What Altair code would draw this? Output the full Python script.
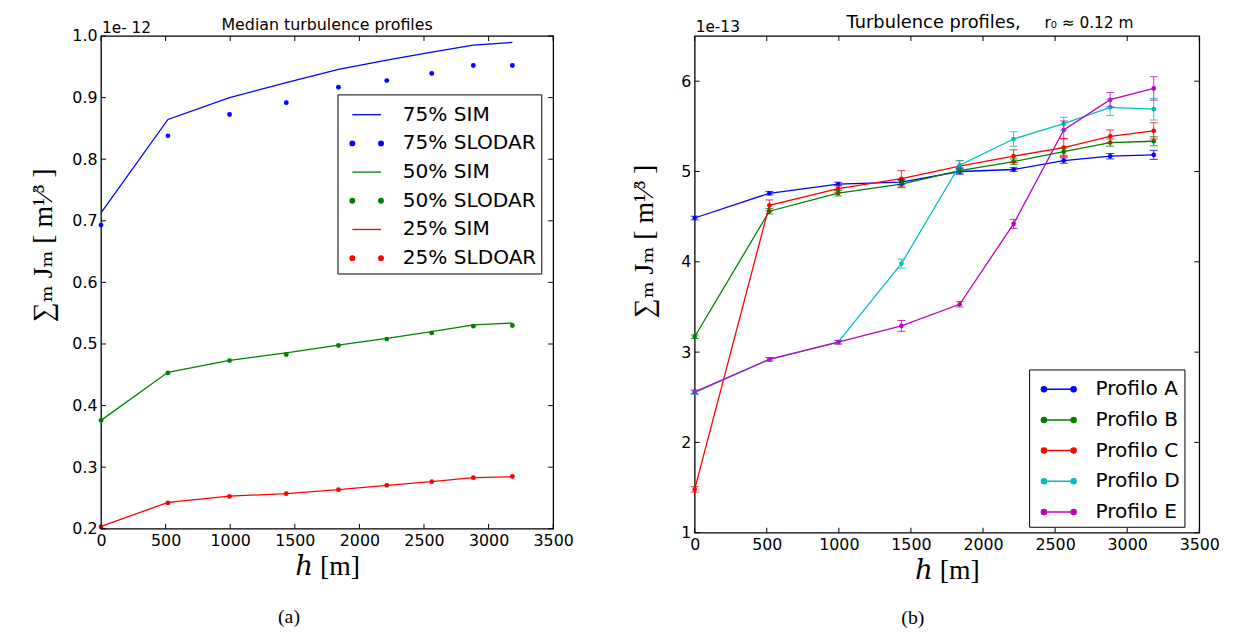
import altair as alt
import pandas as pd

# ---------------- data ----------------
heights = [0, 518, 995, 1434, 1838, 2212, 2560, 2882, 3184]

levels = ["75%", "50%", "25%"]
level_colors = ["#0000ff", "#008000", "#ff0000"]
sim_75 = [0.713, 0.8645, 0.900, 0.9245, 0.9457, 0.9608, 0.974, 0.9854, 0.9897]
slodar_75 = [0.693, 0.838, 0.8726, 0.8918, 0.9169, 0.9276, 0.9393, 0.9522, 0.9522]
sim_50 = [0.376, 0.454, 0.4734, 0.4857, 0.498, 0.509, 0.520, 0.531, 0.534]
slodar_50 = [0.376, 0.453, 0.473, 0.483, 0.4975, 0.508, 0.518, 0.529, 0.530]
sim_25 = [0.204, 0.2427, 0.253, 0.257, 0.2636, 0.2706, 0.2764, 0.2829, 0.2845]
slodar_25 = [0.203, 0.242, 0.2525, 0.257, 0.2635, 0.2705, 0.2765, 0.283, 0.285]
sim_names = ["75% SIM", "50% SIM", "25% SIM"]
slodar_names = ["75% SLODAR", "50% SLODAR", "25% SLDOAR"]
series_left = ["75% SIM", "75% SLODAR", "50% SIM", "50% SLODAR", "25% SIM", "25% SLDOAR"]
series_left_colors = ["#0000ff", "#0000ff", "#008000", "#008000", "#ff0000", "#ff0000"]

profiles = ["Profilo A", "Profilo B", "Profilo C", "Profilo D", "Profilo E"]
profile_keys = ["A", "B", "C", "D", "E"]
profile_colors = ["#0000ff", "#008000", "#ff0000", "#00bfbf", "#bf00bf"]
prof_A = [4.485, 4.759, 4.861, 4.883, 5.00, 5.022, 5.121, 5.169, 5.184]
prof_B = [3.17, 4.56, 4.76, 4.86, 5.01, 5.11, 5.22, 5.32, 5.335]
prof_C = [1.48, 4.625, 4.81, 4.92, 5.06, 5.17, 5.265, 5.39, 5.45]
prof_D = [2.55, 2.92, 3.11, 3.98, 5.07, 5.36, 5.53, 5.71, 5.69]
prof_E = [2.56, 2.92, 3.11, 3.29, 3.53, 4.42, 5.46, 5.795, 5.92]
err_A = [0.02, 0.02, 0.02, 0.03, 0.03, 0.02, 0.03, 0.03, 0.05]
err_B = [0.02, 0.03, 0.03, 0.04, 0.03, 0.03, 0.04, 0.04, 0.05]
err_C = [0.03, 0.06, 0.04, 0.09, 0.06, 0.07, 0.10, 0.07, 0.09]
err_D = [0.02, 0.02, 0.02, 0.05, 0.05, 0.08, 0.07, 0.09, 0.12]
err_E = [0.02, 0.02, 0.02, 0.06, 0.03, 0.05, 0.10, 0.08, 0.13]

x_ticks = [0, 500, 1000, 1500, 2000, 2500, 3000, 3500]
y_ticks_left = [0.2, 0.3, 0.4, 0.5, 0.6, 0.7, 0.8, 0.9, 1.0]
y_ticks_right = [1, 2, 3, 4, 5, 6]

# ---------------- tables ----------------
rows = []
for lv, sim, slo, sn, dn in zip(levels, [sim_75, sim_50, sim_25],
                                [slodar_75, slodar_50, slodar_25], sim_names, slodar_names):
    for h, a, b in zip(heights, sim, slo):
        rows.append({"h": h, "v": a, "level": lv, "kind": "SIM", "series": sn})
        rows.append({"h": h, "v": b, "level": lv, "kind": "SLODAR", "series": dn})
df_left = pd.DataFrame(rows)

rows = []
for p, k, vals, errs in zip(profiles, profile_keys, [prof_A, prof_B, prof_C, prof_D, prof_E],
                            [err_A, err_B, err_C, err_D, err_E]):
    for h, v, e in zip(heights, vals, errs):
        rows.append({"h": h, "v": v, "lo": v - e, "hi": v + e, "key": k, "entry": p})
df_right = pd.DataFrame(rows)

SERIF = "Liberation Serif, DejaVu Serif"
SANS = "DejaVu Sans"
TICK = 5

dots_l = ("M-1.16,0A0.16,0.16,0,1,0,-0.84,0A0.16,0.16,0,1,0,-1.16,0Z"
          "M0.84,0A0.16,0.16,0,1,0,1.16,0A0.16,0.16,0,1,0,0.84,0Z")
line_dots = ("M-1,0L1,0"
             "M-1.17,0A0.17,0.17,0,1,0,-0.83,0A0.17,0.17,0,1,0,-1.17,0Z"
             "M0.83,0A0.17,0.17,0,1,0,1.17,0A0.17,0.17,0,1,0,0.83,0Z")


def ticks_layers(y_ticks, W, H):
    xt = pd.DataFrame({"h": x_ticks})
    yt = pd.DataFrame({"v": y_ticks})
    r = dict(color="black", strokeWidth=1)
    return [
        alt.Chart(xt).mark_rule(**r).encode(x="h:Q", y=alt.value(0), y2=alt.value(TICK)),
        alt.Chart(xt).mark_rule(**r).encode(x="h:Q", y=alt.value(H), y2=alt.value(H - TICK)),
        alt.Chart(yt).mark_rule(**r).encode(y="v:Q", x=alt.value(0), x2=alt.value(TICK)),
        alt.Chart(yt).mark_rule(**r).encode(y="v:Q", x=alt.value(W), x2=alt.value(W - TICK)),
    ]


def text_layer(txt, x, y, font, size, align="left"):
    return alt.Chart(pd.DataFrame({"t": [txt]})).mark_text(
        font=font, fontSize=size, align=align, baseline="middle", color="black"
    ).encode(text="t:N", x=alt.value(x), y=alt.value(y))


ytitle = "∑ₘ Jₘ [ m¹⁄³ ]"

# ---------------- left panel ----------------
W1, H1 = 457, 498
xs1 = alt.Scale(domain=[0, 3500], nice=False, zero=False)
ys1 = alt.Scale(domain=[0.2, 1.0], nice=False, zero=False)
x_axis1 = alt.Axis(values=x_ticks, format="d", title="ℎ [m]", labelFlush=False,
                   labelOverlap=False, titlePadding=4)
y_axis1 = alt.Axis(values=y_ticks_left, format=".1f", title=ytitle, titleY=211,
                   titlePadding=15, labelOverlap=False)
lvl_scale = alt.Scale(domain=levels, range=level_colors)

base1 = alt.Chart(df_left)
lines1 = base1.transform_filter("datum.kind == 'SIM'").mark_line(strokeWidth=1.3).encode(
    x=alt.X("h:Q", scale=xs1, axis=x_axis1),
    y=alt.Y("v:Q", scale=ys1, axis=y_axis1),
    color=alt.Color("level:N", scale=lvl_scale, legend=None),
)
pts1 = base1.transform_filter("datum.kind == 'SLODAR'").mark_circle(size=24, opacity=1).encode(
    x="h:Q", y="v:Q",
    color=alt.Color("level:N", scale=lvl_scale, legend=None),
)
leg1 = alt.Legend(orient="none", legendX=239, legendY=59, title=None,
                  labelFont=SANS, labelFontSize=20.3, labelColor="black",
                  symbolSize=841, symbolStrokeWidth=1.3, symbolOpacity=1,
                  symbolOffset=9, labelOffset=21, padding=5, rowPadding=3,
                  strokeColor="black", fillColor="white")
sc_fill1 = alt.Scale(domain=series_left, range=series_left_colors)
sc_shape1 = alt.Scale(domain=series_left, range=["stroke", dots_l, "stroke", dots_l, "stroke", dots_l])
carrier1 = base1.mark_point(opacity=0).encode(
    x="h:Q", y="v:Q",
    fill=alt.Fill("series:N", scale=sc_fill1, legend=leg1),
    stroke=alt.Stroke("series:N", scale=sc_fill1, legend=leg1),
    shape=alt.Shape("series:N", scale=sc_shape1, legend=leg1),
)
left = alt.layer(
    lines1, pts1, carrier1, *ticks_layers(y_ticks_left, W1, H1),
    text_layer("Median turbulence profiles", W1 / 2, -11.5, SANS, 16, "center"),
    text_layer("1e- 12", 1, -8, SANS, 15.5),
    text_layer("(a)", 190, H1 + 89, SERIF, 20, "center"),
).properties(width=W1, height=H1)

# ---------------- right panel ----------------
W2, H2 = 510, 502
xs2 = alt.Scale(domain=[0, 3500], nice=False, zero=False)
ys2 = alt.Scale(domain=[1, 6.5], nice=False, zero=False)
x_axis2 = alt.Axis(values=x_ticks, format="d", title="ℎ [m]", labelFlush=False,
                   labelOverlap=False, titlePadding=4)
y_axis2 = alt.Axis(values=y_ticks_right, format="d", title=ytitle, titleY=207,
                   titlePadding=22, labelOverlap=False)
key_scale = alt.Scale(domain=profile_keys, range=profile_colors)

base2 = alt.Chart(df_right)
lines2 = base2.mark_line(strokeWidth=1.3).encode(
    x=alt.X("h:Q", scale=xs2, axis=x_axis2),
    y=alt.Y("v:Q", scale=ys2, axis=y_axis2),
    color=alt.Color("key:N", scale=key_scale, legend=None),
)
pts2 = base2.mark_circle(size=22, opacity=1).encode(
    x="h:Q", y="v:Q",
    color=alt.Color("key:N", scale=key_scale, legend=None),
)
errs2 = base2.mark_errorbar(ticks={"size": 8}, opacity=0.8).encode(
    x="h:Q", y=alt.Y("lo:Q", title=ytitle), y2="hi:Q",
    color=alt.Color("key:N", scale=key_scale, legend=None),
)
leg2 = alt.Legend(orient="none", legendX=338, legendY=337, title=None,
                  labelFont=SANS, labelFontSize=20.3, labelColor="black",
                  symbolSize=900, symbolStrokeWidth=1.5, symbolOpacity=1,
                  symbolOffset=10, labelOffset=21, padding=4, rowPadding=4,
                  strokeColor="black", fillColor="white")
sc_fill2 = alt.Scale(domain=profiles, range=profile_colors)
sc_shape2 = alt.Scale(domain=profiles, range=[line_dots] * 5)
carrier2 = base2.mark_point(opacity=0).encode(
    x="h:Q", y="v:Q",
    fill=alt.Fill("entry:N", scale=sc_fill2, legend=leg2),
    stroke=alt.Stroke("entry:N", scale=sc_fill2, legend=leg2),
    shape=alt.Shape("entry:N", scale=sc_shape2, legend=leg2),
)
right = alt.layer(
    lines2, pts2, errs2, carrier2, *ticks_layers(y_ticks_right, W2, H2),
    text_layer("Turbulence profiles,", 241.5, -13, SANS, 18, "center"),
    text_layer("r₀ ≈ 0.12 m", 353.5, -13, SANS, 15.5),
    text_layer("1e-13", 1, -9.5, SANS, 15.5),
    text_layer("(b)", 220.5, H2 + 86, SERIF, 20, "center"),
).properties(width=W2, height=H2)

chart = alt.hconcat(left, right, spacing=56).resolve_scale(
    color="independent", fill="independent", stroke="independent", shape="independent",
    x="independent", y="independent",
).resolve_legend(
    color="independent", fill="independent", stroke="independent", shape="independent"
).properties(
    padding={"left": 20, "top": 2, "right": 5, "bottom": 0}
).configure_view(
    stroke="black", strokeWidth=1.3
).configure_axis(
    labelFont=SANS, labelFontSize=16, labelColor="black", labelPadding=4,
    ticks=False, domain=False, grid=False,
    titleFont=SERIF, titleFontSize=28, titleFontWeight="normal", titleColor="black",
)

chart.save("out.html", embed_options={"renderer": "svg", "actions": False})
